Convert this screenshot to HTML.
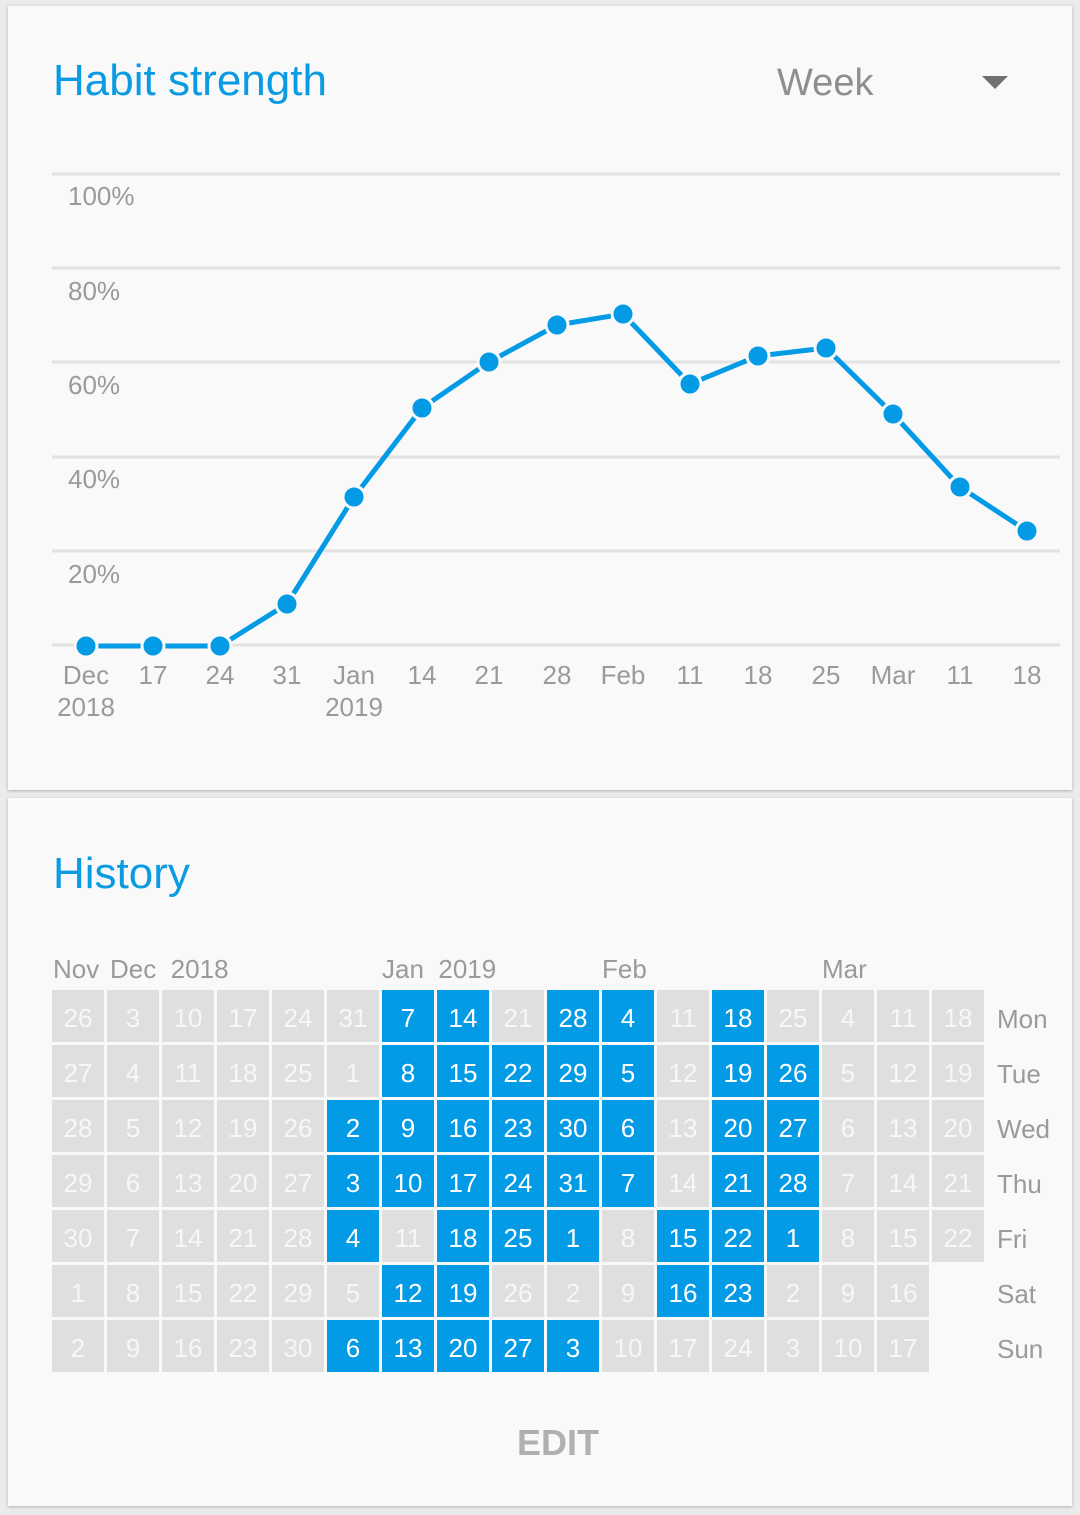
<!DOCTYPE html>
<html><head><meta charset="utf-8"><style>
body{margin:0;width:1080px;height:1515px;background:#ebebeb;font-family:"Liberation Sans",sans-serif;position:relative;overflow:hidden}
.card{position:absolute;left:8px;width:1064px;background:#f9f9f9;box-shadow:0 1px 3px rgba(0,0,0,.25)}
.t{position:absolute;color:#0a9be2;font-size:44px}
.c{position:absolute;width:52px;height:52px;font-size:26px;text-align:center;line-height:56px}
.g{background:#dfdfdf;color:#f7f7f7}.b{background:#039be5;color:#fff}
.lab{position:absolute;color:#9a9a9a;font-size:26px}
</style></head><body>
<div class="card" style="top:6px;height:784px"></div>
<div class="card" style="top:798px;height:708px"></div>
<div class="t" style="left:53px;top:56px">Habit strength</div>
<div class="lab" style="left:777px;top:62px;font-size:38px;color:#8e8e8e">Week</div>
<div style="position:absolute;left:982px;top:76px;border-left:13px solid transparent;border-right:13px solid transparent;border-top:13px solid #707070"></div>
<svg style="position:absolute;left:0;top:0" width="1080" height="760" font-family="Liberation Sans" font-size="26" fill="#9a9a9a">
<g stroke="#e2e2e2" stroke-width="3">
<line x1="52" x2="1060" y1="174" y2="174"/><line x1="52" x2="1060" y1="268" y2="268"/><line x1="52" x2="1060" y1="362" y2="362"/><line x1="52" x2="1060" y1="457" y2="457"/><line x1="52" x2="1060" y1="551" y2="551"/><line x1="52" x2="1060" y1="645" y2="645"/></g>
<text x="68" y="205">100%</text><text x="68" y="300">80%</text><text x="68" y="394">60%</text><text x="68" y="488">40%</text><text x="68" y="583">20%</text>
<g text-anchor="middle">
<text x="86" y="684">Dec</text><text x="86" y="716">2018</text><text x="153" y="684">17</text><text x="220" y="684">24</text><text x="287" y="684">31</text><text x="354" y="684">Jan</text><text x="354" y="716">2019</text><text x="422" y="684">14</text><text x="489" y="684">21</text><text x="557" y="684">28</text><text x="623" y="684">Feb</text><text x="690" y="684">11</text><text x="758" y="684">18</text><text x="826" y="684">25</text><text x="893" y="684">Mar</text><text x="960" y="684">11</text><text x="1027" y="684">18</text></g>
<polyline fill="none" stroke="#039be5" stroke-width="5" points="86,646 153,646 220,646 287,604 354,497 422,408 489,362 557,325 623,314 690,384 758,356 826,348 893,414 960,487 1027,531"/>
<g fill="#039be5" stroke="#f9f9f9" stroke-width="3"><circle cx="86" cy="646" r="11"/><circle cx="153" cy="646" r="11"/><circle cx="220" cy="646" r="11"/><circle cx="287" cy="604" r="11"/><circle cx="354" cy="497" r="11"/><circle cx="422" cy="408" r="11"/><circle cx="489" cy="362" r="11"/><circle cx="557" cy="325" r="11"/><circle cx="623" cy="314" r="11"/><circle cx="690" cy="384" r="11"/><circle cx="758" cy="356" r="11"/><circle cx="826" cy="348" r="11"/><circle cx="893" cy="414" r="11"/><circle cx="960" cy="487" r="11"/><circle cx="1027" cy="531" r="11"/></g>
</svg>
<div class="t" style="left:53px;top:849px">History</div>
<div class="lab" style="left:53px;top:954px">Nov</div>
<div class="lab" style="left:110px;top:954px">Dec&nbsp; 2018</div>
<div class="lab" style="left:382px;top:954px">Jan&nbsp; 2019</div>
<div class="lab" style="left:602px;top:954px">Feb</div>
<div class="lab" style="left:822px;top:954px">Mar</div>
<div id="h"></div>
<div class="lab" style="left:517px;top:1422px;font-size:36px;color:#b0b0b0;font-weight:bold">EDIT</div>
<script>
var cols=[
[[26],[27],[28],[29],[30],[1],[2]],
[[3],[4],[5],[6],[7],[8],[9]],
[[10],[11],[12],[13],[14],[15],[16]],
[[17],[18],[19],[20],[21],[22],[23]],
[[24],[25],[26],[27],[28],[29],[30]],
[[31],[1],[2,1],[3,1],[4,1],[5],[6,1]],
[[7,1],[8,1],[9,1],[10,1],[11],[12,1],[13,1]],
[[14,1],[15,1],[16,1],[17,1],[18,1],[19,1],[20,1]],
[[21],[22,1],[23,1],[24,1],[25,1],[26],[27,1]],
[[28,1],[29,1],[30,1],[31,1],[1,1],[2],[3,1]],
[[4,1],[5,1],[6,1],[7,1],[8],[9],[10]],
[[11],[12],[13],[14],[15,1],[16,1],[17]],
[[18,1],[19,1],[20,1],[21,1],[22,1],[23,1],[24]],
[[25],[26,1],[27,1],[28,1],[1,1],[2],[3]],
[[4],[5],[6],[7],[8],[9],[10]],
[[11],[12],[13],[14],[15],[16],[17]],
[[18],[19],[20],[21],[22]]];
var s='';
cols.forEach(function(c,i){c.forEach(function(d,r){s+='<div class="c '+(d[1]?'b':'g')+'" style="left:'+(52+55*i)+'px;top:'+(990+55*r)+'px">'+d[0]+'</div>';});});
['Mon','Tue','Wed','Thu','Fri','Sat','Sun'].forEach(function(n,r){s+='<div class="lab" style="left:997px;top:'+(1004+55*r)+'px">'+n+'</div>';});
document.getElementById('h').innerHTML=s;
</script>
</body></html>
